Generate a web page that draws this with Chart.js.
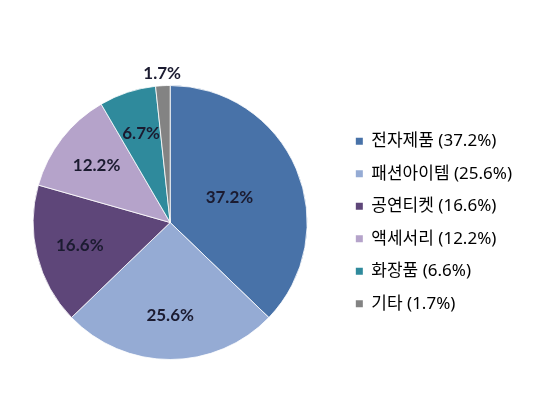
<!DOCTYPE html>
<html>
<head>
<meta charset="utf-8">
<script src="https://cdn.jsdelivr.net/npm/chart.js@4"></script>
<style>
  html, body { margin: 0; padding: 0; background: #fff; }
  #wrap { width: 540px; height: 420px; }
</style>
</head>
<body>
<div id="wrap"><canvas id="share"></canvas></div>
<script>
const categories = ['전자제품', '패션아이템', '공연티켓', '액세서리', '화장품', '기타'];
const shares = [37.2, 25.6, 16.6, 12.2, 6.7, 1.7];
// the legend in the picture reads 6.6% for 화장품 while the slice says 6.7%
const legendShares = ['37.2%', '25.6%', '16.6%', '12.2%', '6.6%', '1.7%'];
const sliceLabels = ['37.2%', '25.6%', '16.6%', '12.2%', '6.7%', '1.7%'];

const colors = ['#4872A8', '#95ABD4', '#5E4679', '#B5A3CA', '#2F8A9C', '#838383'];

// draws the percentage inside each slice (outside for the tiny one)
const sliceText = {
    id: 'sliceText',
    afterDatasetsDraw(chart) {
        const ctx = chart.ctx;
        const meta = chart.getDatasetMeta(0);
        ctx.save();
        ctx.font = 'bold 17px Lato, "Liberation Sans", sans-serif';
        ctx.fillStyle = '#1b1b30';
        ctx.textAlign = 'center';
        ctx.textBaseline = 'middle';
        meta.data.forEach((arc, i) => {
            const p = arc.getProps(['x', 'y', 'startAngle', 'endAngle', 'outerRadius'], true);
            const span = p.endAngle - p.startAngle;
            const mid = (p.startAngle + p.endAngle) / 2;
            let r;
            if (span < 0.2) r = p.outerRadius + 12;
            else if (span > 2.0) r = p.outerRadius * 0.47;
            else r = p.outerRadius * 0.68;
            ctx.fillText(sliceLabels[i], p.x + Math.cos(mid) * r, p.y + Math.sin(mid) * r);
        });
        ctx.restore();
    }
};

const share = document.getElementById('share').getContext('2d');
const shareChart = new Chart(share, {
    type: 'pie',
    data: {
        labels: categories,
        datasets: [{
            data: shares,
            backgroundColor: colors,
            borderColor: 'rgba(255, 255, 255, 0.8)',
            borderWidth: 1
        }]
    },
    options: {
        responsive: true,
        maintainAspectRatio: false,
        animation: false,
        layout: {
            padding: {top: 85, bottom: 60, left: 0, right: 18}
        },
        plugins: {
            tooltip: {enabled: false},
            legend: {
                position: 'right',
                labels: {
                    boxWidth: 7,
                    boxHeight: 7,
                    padding: 15.5,
                    color: '#333333',
                    font: {family: '"Noto Sans", "Noto Sans CJK KR", sans-serif', size: 17},
                    generateLabels(chart) {
                        return categories.map((c, i) => ({
                            text: c + ' (' + legendShares[i] + ')',
                            fillStyle: colors[i],
                            strokeStyle: colors[i],
                            lineWidth: 0,
                            index: i
                        }));
                    }
                }
            }
        }
    },
    plugins: [sliceText]
});
</script>
</body>
</html>
